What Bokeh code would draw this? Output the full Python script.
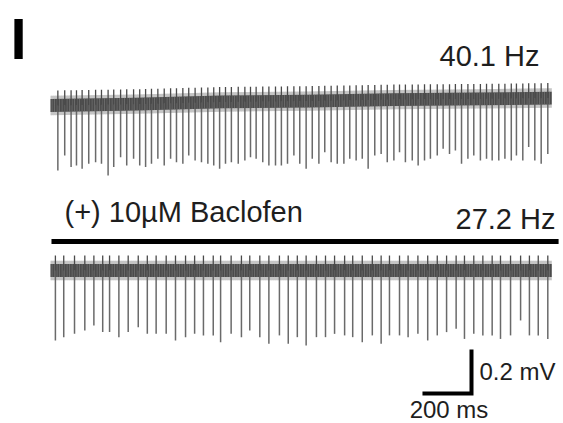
import numpy as np
from bokeh.plotting import figure
from bokeh.models import Range1d
from bokeh.embed import file_html
from bokeh.resources import INLINE
from bokeh.core.properties import value

# ---------------- data (time in ms, potential in mV) ----------------
panel_label = "I"
rate_labels = ["40.1 Hz", "27.2 Hz"]
drug_label = "(+) 10µM Baclofen"
scale_labels = ["200 ms", "0.2 mV"]
scale_ms = 200
scale_mv = 0.2
drug_bar_ms = [4, 2073]

# control trace: spike times and spike tip potentials
ctrl_spike_ms = [30, 58, 84, 106, 129, 156, 184, 208, 235, 258, 286, 311, 339, 364,
                 388, 412, 438, 464, 490, 514, 540, 564, 590, 616, 642, 666,
                 690, 714, 738, 766, 793, 816, 839, 866, 891, 918, 942, 967, 993,
                 1017, 1043, 1068, 1095, 1119, 1145, 1170, 1197, 1221, 1247, 1272,
                 1296, 1323, 1349, 1374,
                 1401, 1424, 1448, 1476, 1500, 1526, 1550, 1578, 1602, 1628, 1652,
                 1677, 1703, 1727, 1754, 1779, 1802, 1829, 1854, 1880, 1901, 1927,
                 1951, 1976, 2002, 2029]
ctrl_spike_tip_mv = [-0.295, -0.227, -0.280, -0.273, -0.288, -0.265, -0.258, -0.265, -0.318,
                     -0.280, -0.235, -0.273, -0.242, -0.273, -0.280, -0.265, -0.242, -0.273,
                     -0.242, -0.258, -0.265, -0.227, -0.250, -0.258, -0.265, -0.273,
                     -0.288, -0.265, -0.258, -0.265, -0.250, -0.235, -0.242, -0.258, -0.273,
                     -0.273, -0.273, -0.265, -0.227, -0.265, -0.288, -0.242, -0.265, -0.212,
                     -0.258, -0.265, -0.265, -0.242, -0.250, -0.242, -0.288, -0.227, -0.220,
                     -0.258,
                     -0.250, -0.212, -0.258, -0.250, -0.273, -0.250, -0.242, -0.227, -0.197,
                     -0.220, -0.205, -0.265, -0.242, -0.227, -0.250, -0.242, -0.250, -0.250,
                     -0.242, -0.250, -0.227, -0.250, -0.189, -0.250, -0.265, -0.220]
ctrl_base_ms = [0, 350, 700, 1050, 1400, 1750, 2045]
ctrl_base_mv = [0.0, 0.006, 0.016, 0.020, 0.027, 0.030, 0.034]

# baclofen trace: spike times and spike tip potentials (relative to its baseline)
bac_spike_ms = [20, 54, 98, 140, 177, 213, 241, 279, 317, 358, 395, 431, 472, 510, 551,
                588, 624, 664,
                694, 737, 779, 813, 854, 891, 934, 970, 1007, 1043, 1085, 1122, 1159,
                1200, 1233, 1272, 1313, 1349,
                1383, 1424, 1459, 1499, 1539, 1578, 1616, 1655, 1689, 1727, 1764, 1802,
                1836, 1877, 1918, 1954, 1990, 2029]
bac_spike_tip_mv = [-0.318, -0.303, -0.288, -0.273, -0.250, -0.280, -0.280, -0.303, -0.280,
                    -0.258, -0.288, -0.288, -0.288, -0.318, -0.303, -0.288, -0.295, -0.295,
                    -0.326, -0.288, -0.303, -0.273, -0.303, -0.333, -0.295, -0.333, -0.303,
                    -0.341, -0.303, -0.303, -0.288, -0.295, -0.303, -0.326, -0.295, -0.333,
                    -0.295, -0.295, -0.303, -0.288, -0.318, -0.295, -0.280, -0.265, -0.311,
                    -0.288, -0.295, -0.295, -0.311, -0.295, -0.227, -0.295, -0.295, -0.311]
bac_base_ms = [0, 700, 1400, 2045]
bac_base_mv = [0.0, 0.0, 0.0, 0.0]

# ---------------- layout helpers (pixel -> data) ----------------
MS_PER_PX = 4.08
MV_PER_PX = 0.004545
X0_PX, Y0_PX = 50, 105


def X(px):
    return (px - X0_PX) * MS_PER_PX


def Y(py):
    return -(py - Y0_PX) * MV_PER_PX


BAC_OFFSET = Y(270)

p = figure(width=563, height=423, min_border=0,
           x_range=Range1d(X(0), X(563)), y_range=Range1d(Y(423), Y(0)),
           x_axis_location=None, y_axis_location=None,
           toolbar_location=None, output_backend="svg",
           outline_line_color=None, background_fill_color="white",
           border_fill_color="white")
p.grid.visible = False

FONT = value("Liberation Sans")
TXT = "#1e1e1e"


def draw_trace(base_ms, base_mv, spike_ms, tips, offset):
    bm = np.array(base_mv) + offset
    # outer faint noise halo
    p.varea(x=base_ms, y1=bm - 0.044, y2=bm + 0.044, fill_color="#8c8c8c",
            fill_alpha=0.5, hatch_pattern="|", hatch_color="#c4c4c4",
            hatch_scale=2, hatch_weight=0.8)
    # dense noise core
    p.varea(x=base_ms, y1=bm - 0.029, y2=bm + 0.029, fill_color="#444444",
            fill_alpha=0.95, hatch_pattern="|", hatch_color="#777777",
            hatch_scale=2.5, hatch_weight=0.8)
    sb = np.interp(spike_ms, base_ms, bm)
    tip = np.array(tips) + offset
    # positive pre-spike deflection
    p.segment(x0=spike_ms, y0=sb + 0.068, x1=spike_ms, y1=sb, line_color="#4a4a4a",
              line_width=1.3)
    # negative spike
    p.segment(x0=spike_ms, y0=sb, x1=spike_ms, y1=tip, line_color="#5a5a5a",
              line_width=1.5, line_alpha=0.9)


draw_trace(ctrl_base_ms, ctrl_base_mv, ctrl_spike_ms, ctrl_spike_tip_mv, 0.0)
draw_trace(bac_base_ms, bac_base_mv, bac_spike_ms, bac_spike_tip_mv, BAC_OFFSET)

# drug application bar
p.segment(x0=[drug_bar_ms[0]], y0=[Y(241)], x1=[drug_bar_ms[1]], y1=[Y(241)],
          line_color="black", line_width=5, line_cap="butt")

# scale bar
cx, cy = X(471), Y(393)
p.line(x=[cx - scale_ms, cx, cx], y=[cy, cy, cy + scale_mv], line_color="black",
       line_width=4, line_join="miter", line_cap="butt")


# texts: baseline pixel position, with a correction for how the svg text is placed
def put_text(txt, px, py, size, align, bold=False, color=TXT):
    p.text(x=[X(px)], y=[Y(py - 0.36 * size)], text=[txt], text_font=FONT,
           text_font_size=value(f"{size}px"),
           text_font_style="bold" if bold else "normal", text_color=color,
           text_baseline="alphabetic", text_align=align)


put_text(panel_label, 10, 59, 58, "left", bold=True, color="black")
put_text(rate_labels[0], 539, 66, 29, "right")
put_text(rate_labels[1], 555, 229, 29, "right")
put_text(drug_label, 64, 222, 29, "left")
put_text(scale_labels[1], 479, 380, 24, "left")
put_text(scale_labels[0], 448.5, 418, 24, "center")

open("out.html", "w").write(file_html(p, INLINE))
